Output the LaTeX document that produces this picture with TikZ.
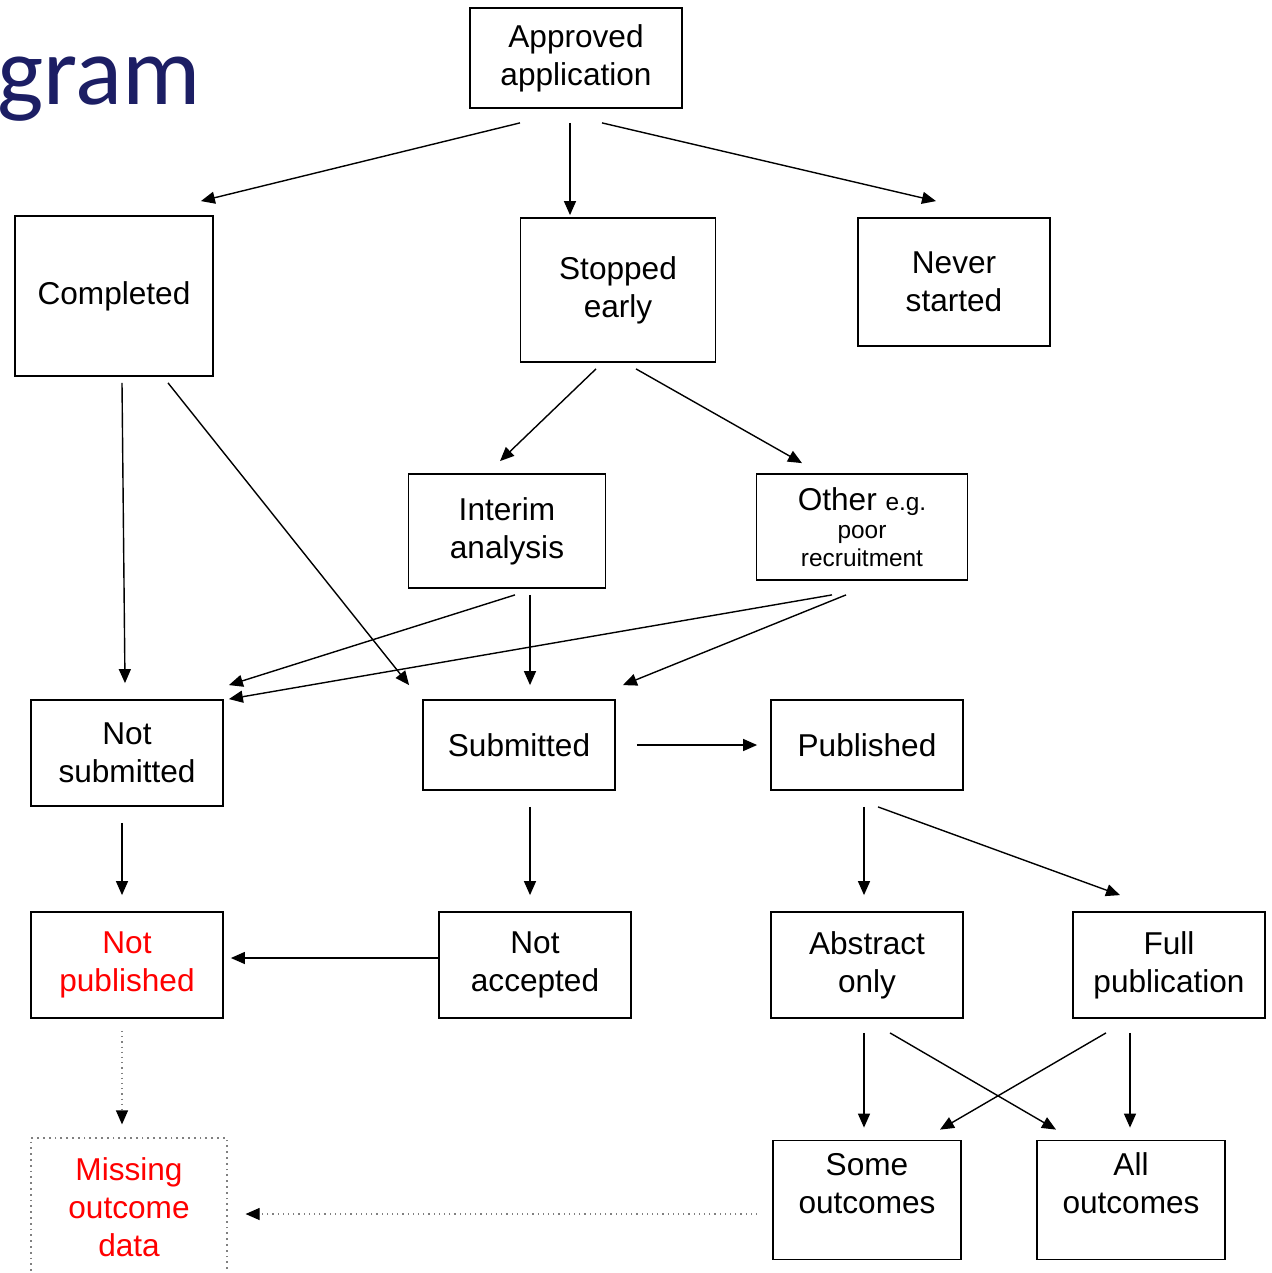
\documentclass[tikz,border=0pt]{standalone}
\usepackage{fontspec}
\setmainfont{Liberation Sans}
\newfontfamily\titlefont{Carlito}
\usepackage{xcolor}
\usetikzlibrary{arrows.meta}
\usetikzlibrary{calc}
\definecolor{titleblue}{RGB}{28,30,100}
\tikzset{
    box/.style = {draw=black, line width=0.9pt, align=center, inner sep=0pt, text centered, font=\fontsize{15.8}{19}\selectfont},
    redbox/.style = {box, text=red},
    missbox/.style = {box, draw=gray, dotted, line width=0.6pt, text=red},
    arr/.style = {-{Triangle[length=7pt,width=6pt]}, line width=0.7pt},
    dotarr/.style = {-{Triangle[length=7pt,width=6pt,color=black]}, draw=gray, dotted, line width=0.6pt}
}
\newcommand{\smalltxt}[1]{{\fontsize{12.2}{14}\selectfont #1}}

\begin{document}
\begin{tikzpicture}[x=0.5pt, y=-0.5pt]
    \useasboundingbox (0,0) rectangle (1272,1273);

    \node [anchor=base west, text=titleblue, font=\titlefont\fontsize{49}{52}\selectfont, inner sep=0pt] (title) at (-3,105) {gram};

    \node [box, minimum width=106, minimum height=50] (app) at (576,58) {Approved\\application};
    \node [box, minimum width=99, minimum height=80] (comp) at (114,296) {Completed};
    \node [box, minimum width=97.5, minimum height=72] (stop) at (618,290) {Stopped\\early};
    \node [box, minimum width=96, minimum height=64] (never) at (954,282) {Never\\started};
    \node [box, minimum width=98.5, minimum height=57] (interim) at (507,531) {Interim\\analysis};
    \node [box, minimum width=105.5, minimum height=53] (other) at (862,527)
        {Other \smalltxt{e.g.}\\[-5pt]\smalltxt{poor}\\[-5pt]\smalltxt{recruitment}};
    \node [box, minimum width=96, minimum height=53] (notsub) at (127,753) {Not\\submitted};
    \node [box, minimum width=96, minimum height=45] (sub) at (519,745) {Submitted};
    \node [box, minimum width=96, minimum height=45] (pub) at (867,745) {Published};
    \node [redbox, minimum width=96, minimum height=53] (notpub) at (127,965) {Not\\published};
    \node [box, minimum width=96, minimum height=53] (notacc) at (535,965) {Not\\accepted};
    \node [box, minimum width=96, minimum height=53] (abs) at (867,965) {Abstract\\only};
    \node [box, minimum width=96, minimum height=53] (full) at (1169,965) {Full\\publication};
    \node [missbox, minimum width=98, minimum height=69] (miss) at (129,1207) {Missing\\outcome\\data};
    \node [box, minimum width=94, minimum height=59.5, text depth=17pt] (some) at (867,1200) {Some\\outcomes};
    \node [box, minimum width=94, minimum height=59.5, text depth=17pt] (all) at (1131,1200) {All\\outcomes};

    \draw [arr] ($(app.south)+(-56,14)$) -- ($(comp.north east)+(-13,-14)$);
    \draw [arr] ($(app.south)+(-6,14)$) -- ($(stop.north)+(-48,-2)$);
    \draw [arr] ($(app.south)+(26,14)$) -- ($(never.north)+(-18,-16)$);

    \draw [arr] ($(comp.south)+(8,6)$) -- ($(notsub.north)+(-2,-16)$);
    \draw [arr] ($(comp.south)+(54,6)$) -- ($(sub.north west)+(-13,-14)$);
    \draw [arr] ($(stop.south)+(-22,6)$) -- ($(interim.north)+(-7,-12)$);
    \draw [arr] ($(stop.south)+(18,6)$) -- ($(other.north)+(-60,-10)$);

    \draw [arr] ($(interim.south)+(8,6)$) -- ($(notsub.north east)+(5,-14)$);
    \draw [arr] ($(interim.south)+(23,6)$) -- ($(sub.north)+(11,-14)$);
    \draw [arr] ($(other.south)+(-30,14)$) -- ($(notsub.north east)+(5,0)$);
    \draw [arr] ($(other.south)+(-16,14)$) -- ($(sub.north east)+(7,-14)$);

    \draw [arr] ($(sub.east)+(21,0)$) -- ($(pub.west)+(-13,0)$);
    \draw [arr] ($(notsub.south)+(-5,16)$) -- ($(notpub.north)+(-5,-16)$);
    \draw [arr] ($(sub.south)+(11,16)$) -- ($(notacc.north)+(-5,-16)$);
    \draw [arr] ($(notacc.west)+(0,-7)$) -- ($(notpub.east)+(7,-7)$);
    \draw [arr] ($(pub.south)+(-3,16)$) -- ($(abs.north)+(-3,-16)$);
    \draw [arr] ($(pub.south)+(11,16)$) -- ($(full.north)+(-49,-16)$);

    \draw [dotarr] ($(notpub.south)+(-5,12)$) -- ($(miss.north)+(-7,-13)$);
    \draw [arr] ($(abs.south)+(-3,14)$) -- ($(some.north)+(-3,-12)$);
    \draw [arr] ($(abs.south)+(23,14)$) -- ($(all.north)+(-75,-10)$);
    \draw [arr] ($(full.south)+(-63,14)$) -- ($(some.north)+(73,-10)$);
    \draw [arr] ($(full.south)+(-39,14)$) -- ($(all.north)+(-1,-12)$);
    \draw [dotarr] ($(some.west)+(-15,14)$) -- ($(miss.east)+(18,7)$);
\end{tikzpicture}
\end{document}
